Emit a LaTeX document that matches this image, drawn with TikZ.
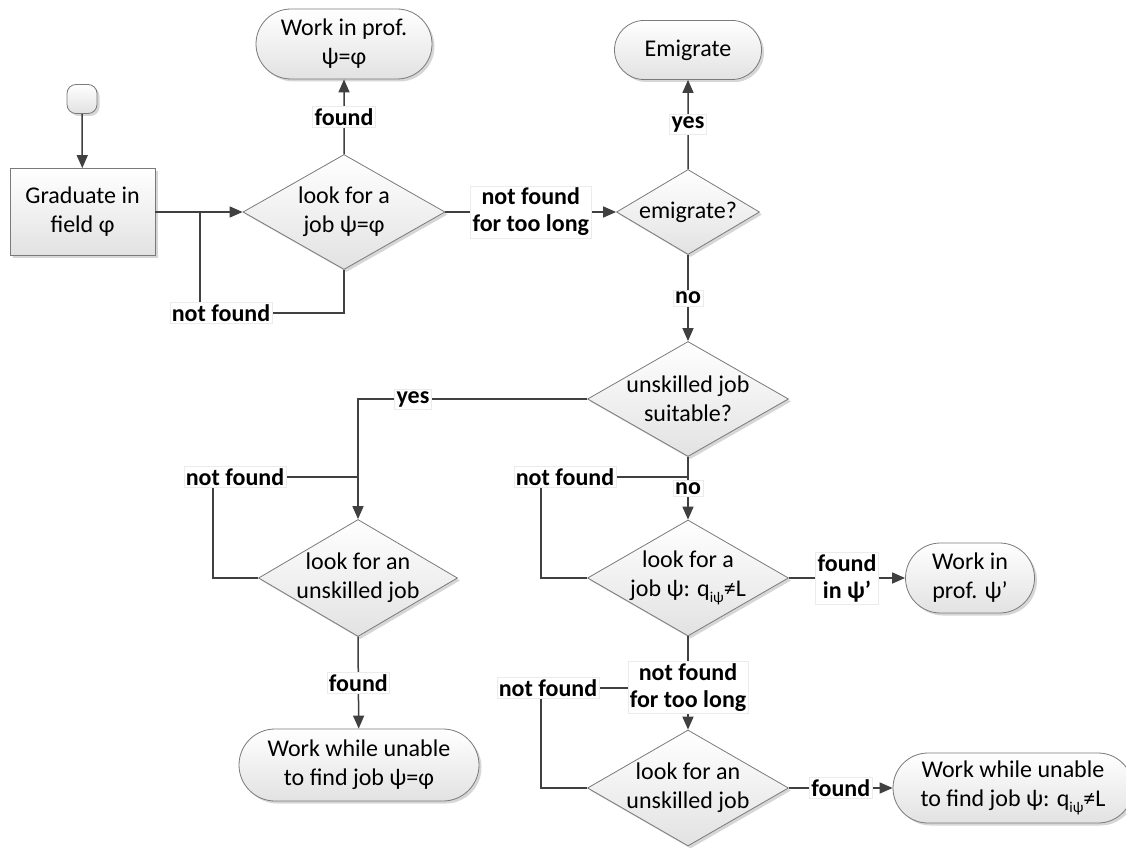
\documentclass[tikz,border=0pt]{standalone}
\usepackage{fontspec}
\setmainfont{Carlito}
\usetikzlibrary{shapes.geometric,shapes.misc,arrows.meta,shadows}

\definecolor{linec}{HTML}{404040}
\definecolor{borderc}{HTML}{7A7A7A}
\definecolor{fillbot}{HTML}{E2E2E2}

% q with the subscript i-psi
\newcommand{\qipsi}{q\raisebox{-0.22em}{\fontsize{15}{15}\selectfont iψ}}

\tikzset{
  shapebase/.style={draw=borderc, line width=0.8pt, top color=white, bottom color=fillbot,
    drop shadow={shadow xshift=2.5pt, shadow yshift=-2.5pt, fill=black!35, opacity=0.45}},
  termbox/.style={shapebase, rounded rectangle, inner sep=0pt, align=center,
    font=\fontsize{24}{29}\selectfont},
  procbox/.style={shapebase, rectangle, inner sep=0pt, align=center,
    font=\fontsize{24}{29}\selectfont},
  decbox/.style={shapebase, diamond, inner sep=0pt},
  dtxt/.style={align=center, inner sep=0pt, font=\fontsize{24}{29}\selectfont},
  lbl/.style={fill=white, draw=black!8, line width=0.5pt, inner sep=2pt, align=center,
    font=\bfseries\fontsize{24}{27}\selectfont},
  ln/.style={draw=linec, line width=1.5pt},
  arr/.style={ln, -{Triangle[length=13pt,width=11pt]}},
}

\begin{document}
\begin{tikzpicture}[x=1pt, y=-1pt]
\useasboundingbox (0,0) rectangle (1126,848);
\fill[white] (0,0) rectangle (1126,848);

% ---- shapes ----
\node[shapebase, rectangle, rounded corners=9pt, minimum width=30pt, minimum height=29pt] (start) at (82,99) {};
\node[procbox, minimum width=145pt, minimum height=87pt] (grad) at (82.5,212) {Graduate in\\field φ};

\node[decbox, minimum width=202pt, minimum height=115pt,
  label={[dtxt]center:look for a\\job ψ=φ}] (d1) at (344,212) {};
\node[termbox, minimum width=176pt, minimum height=70pt] (t1) at (344,44) {Work in prof.\\ψ=φ};

\node[decbox, minimum width=143pt, minimum height=85pt,
  label={[dtxt]center:emigrate?}] (d2) at (688,212) {};
\node[termbox, minimum width=147pt, minimum height=59pt] (t2) at (688,50) {Emigrate};

\node[decbox, minimum width=201pt, minimum height=115pt,
  label={[dtxt]center:unskilled job\\suitable?}] (d3) at (688,399) {};

\node[decbox, minimum width=199pt, minimum height=117pt,
  label={[dtxt]center:look for an\\unskilled job}] (d4) at (358,578) {};
\node[termbox, minimum width=240pt, minimum height=72pt] (t3) at (359,765) {Work while unable\\to find job ψ=φ};

\node[decbox, minimum width=201pt, minimum height=116pt,
  label={[dtxt]center:look for a\\job ψ: \qipsi≠L}] (d5) at (688,578) {};
\node[termbox, minimum width=129pt, minimum height=70pt] (t4) at (970,578) {Work in\\prof. ψ’};

\node[decbox, minimum width=201pt, minimum height=116pt,
  label={[dtxt]center:look for an\\unskilled job}] (d6) at (688,788) {};
\node[termbox, minimum width=240pt, minimum height=70pt] (t5) at (1013,788) {Work while unable\\to find job ψ: \qipsi≠L};

% ---- junction points ----
\coordinate (j0) at (200,212);
\coordinate (c0) at (200,313);
\coordinate (j1) at (358,477);
\coordinate (c1) at (213,477);
\coordinate (j2) at (688,477);
\coordinate (c2) at (541,477);
\coordinate (j3) at (688,688);
\coordinate (c3) at (541,688);

% ---- connectors ----
\draw[arr] (start) -- (grad);
\draw[arr] (grad) -- (d1.west);
\draw[arr] (d1.north) -- node[lbl]{found} (t1);
\draw[ln] (d1.south) |- (c0) -- (j0);
\node[lbl] (nf0) at (221,313) {not found};
\draw[arr] (d1.east) -- node[lbl]{not found\\for too long} (d2.west);

\draw[arr] (d2.north) -- node[lbl]{yes} (t2);
\draw[arr] (d2.south) -- node[lbl]{no} (d3.north);

\draw[arr] (d3.west) -| node[lbl, pos=0.38]{yes} (d4.north);
\draw[ln] (d4.west) -| (c1) -- (j1);
\node[lbl] (nf1) at (235,477) {not found};
\draw[arr] (d4.south) -- node[lbl]{found} (t3);

\draw[arr] (d3.south) -- node[lbl]{no} (d5.north);
\draw[ln] (d5.west) -| (c2) -- (j2);
\node[lbl] (nf2) at (565,477) {not found};
\draw[arr] (d5.east) -- node[lbl]{found\\in ψ’} (t4);

\draw[ln] (d6.west) -| (c3) -- (j3);
\node[lbl] (nf3) at (548,688) {not found};
\draw[arr] (d5.south) -- node[lbl, pos=0.55]{not found\\for too long} (d6.north);
\draw[arr] (d6.east) -- node[lbl]{found} (t5);
\end{tikzpicture}
\end{document}
